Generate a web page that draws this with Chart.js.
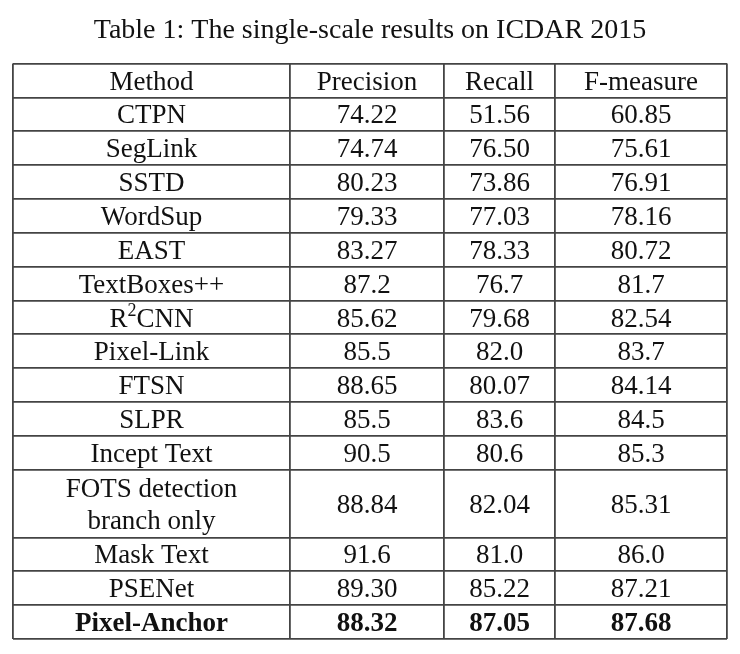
<!DOCTYPE html>
<html>
<head>
<meta charset="utf-8">
<script src="https://cdn.jsdelivr.net/npm/chart.js@4"></script>
<style>
  html, body { margin: 0; padding: 0; background: #fff; }
</style>
</head>
<body>
<canvas id="tableChart" width="740" height="654"></canvas>
<script>
// table contents
const headers = ['Method', 'Precision', 'Recall', 'F-measure'];
const methods = ['CTPN', 'SegLink', 'SSTD', 'WordSup', 'EAST', 'TextBoxes++', 'R^2CNN', 'Pixel-Link',
    'FTSN', 'SLPR', 'Incept Text', 'FOTS detection\nbranch only', 'Mask Text', 'PSENet', 'Pixel-Anchor'];
const precision = ['74.22', '74.74', '80.23', '79.33', '83.27', '87.2', '85.62', '85.5',
    '88.65', '85.5', '90.5', '88.84', '91.6', '89.30', '88.32'];
const recall = ['51.56', '76.50', '73.86', '77.03', '78.33', '76.7', '79.68', '82.0',
    '80.07', '83.6', '80.6', '82.04', '81.0', '85.22', '87.05'];
const fmeasure = ['60.85', '75.61', '76.91', '78.16', '80.72', '81.7', '82.54', '83.7',
    '84.14', '84.5', '85.3', '85.31', '86.0', '87.21', '87.68'];
const rowSpans = [1, 1, 1, 1, 1, 1, 1, 1, 1, 1, 1, 2, 1, 1, 1];
const boldRows = ['Pixel-Anchor'];

// layout (column widths in px)
const colWidths = [277, 154, 111, 172];
const FONT = "'Liberation Serif', 'Times New Roman', serif";

const colEdges = [0];
colWidths.forEach(w => colEdges.push(colEdges[colEdges.length - 1] + w));
const rowEdges = [0, 1];
rowSpans.forEach(s => rowEdges.push(rowEdges[rowEdges.length - 1] + s));

function drawRich(ctx, text, x, y, size, bold) {
    const weight = bold ? 'bold ' : '';
    if (text.indexOf('^') < 0) {
        ctx.font = weight + size + 'px ' + FONT;
        ctx.textAlign = 'center';
        ctx.fillText(text, x, y);
        return;
    }
    // superscript: R^2CNN
    const parts = text.split('^');
    const pre = parts[0], sup = parts[1].charAt(0), post = parts[1].slice(1);
    const supSize = Math.round(size * 0.65);
    ctx.font = weight + size + 'px ' + FONT;
    const w1 = ctx.measureText(pre).width, w3 = ctx.measureText(post).width;
    ctx.font = weight + supSize + 'px ' + FONT;
    const w2 = ctx.measureText(sup).width;
    let left = x - (w1 + w2 + w3) / 2;
    ctx.textAlign = 'left';
    ctx.font = weight + size + 'px ' + FONT;
    ctx.fillText(pre, left, y);
    ctx.font = weight + supSize + 'px ' + FONT;
    ctx.fillText(sup, left + w1, y - size * 0.3);
    ctx.font = weight + size + 'px ' + FONT;
    ctx.fillText(post, left + w1 + w2, y);
}

const cellText = {
    id: 'cellText',
    afterDraw(chart) {
        const ctx = chart.ctx;
        const xs = chart.scales.x, ys = chart.scales.y;
        const cx = i => (xs.getPixelForValue(colEdges[i]) + xs.getPixelForValue(colEdges[i + 1])) / 2;
        const cy = r => (ys.getPixelForValue(rowEdges[r]) + ys.getPixelForValue(rowEdges[r + 1])) / 2;
        ctx.save();
        ctx.fillStyle = '#111';
        ctx.textBaseline = 'middle';
        headers.forEach((h, i) => drawRich(ctx, h, cx(i), cy(0) + 2, 27, false));
        methods.forEach((m, r) => {
            const bold = boldRows.includes(m);
            const y = cy(r + 1) + 2;
            const lines = m.split('\n');
            lines.forEach((line, k) => {
                const off = (k - (lines.length - 1) / 2) * 32;
                drawRich(ctx, line, cx(0), y + off, 27, bold);
            });
            drawRich(ctx, precision[r], cx(1), y, 27, bold);
            drawRich(ctx, recall[r], cx(2), y, 27, bold);
            drawRich(ctx, fmeasure[r], cx(3), y, 27, bold);
        });
        ctx.restore();
    }
};

const lineColor = '#444';

new Chart(document.getElementById('tableChart').getContext('2d'), {
    type: 'scatter',
    data: { datasets: [] },
    options: {
        responsive: false,
        animation: false,
        layout: { padding: { left: 13, right: 13, bottom: 15, top: 0 } },
        plugins: {
            legend: { display: false },
            tooltip: { enabled: false },
            title: {
                display: true,
                text: 'Table 1: The single-scale results on ICDAR 2015',
                color: '#111',
                font: { family: FONT, size: 28, weight: 'normal', lineHeight: 1.2 },
                padding: { top: 14, bottom: 16 }
            }
        },
        scales: {
            x: {
                type: 'linear',
                min: 0,
                max: colEdges[colEdges.length - 1],
                afterBuildTicks: axis => { axis.ticks = colEdges.map(v => ({ value: v })); },
                ticks: { display: false },
                grid: { color: lineColor, lineWidth: 1.8, drawTicks: false },
                border: { display: false }
            },
            y: {
                type: 'linear',
                reverse: true,
                min: 0,
                max: rowEdges[rowEdges.length - 1],
                afterBuildTicks: axis => { axis.ticks = rowEdges.map(v => ({ value: v })); },
                ticks: { display: false },
                grid: { color: lineColor, lineWidth: 1.8, drawTicks: false },
                border: { display: false }
            }
        }
    },
    plugins: [cellText]
});
</script>
</body>
</html>
